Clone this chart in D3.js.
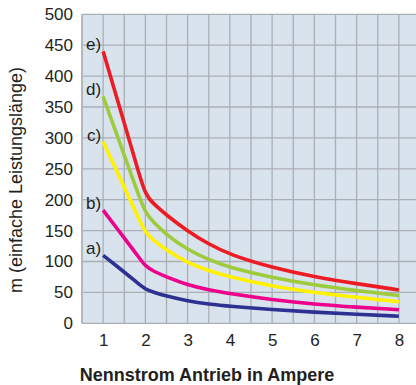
<!DOCTYPE html>
<html><head><meta charset="utf-8">
<script src="https://cdn.jsdelivr.net/npm/d3@7"></script>
<style>body{margin:0;background:#fff}svg{display:block}text{font-family:"Liberation Sans",Arial,sans-serif;fill:#231f20}</style>
</head><body>
<script>
const xValues = [1, 1.5, 1.8, 2, 2.2, 2.5, 3, 3.5, 4, 5, 6, 7, 8];
const seriesA = [110, 83, 66, 55, 50, 44, 36, 31, 27.5, 22, 18, 14.5, 11.5];
const seriesB = [183, 138, 111, 92, 84, 75, 62, 54, 48, 38, 31, 26, 22];
const seriesC = [294, 220, 176, 146, 134, 118, 98, 85, 75, 60, 50, 42, 35];
const seriesD = [367, 272, 215, 178, 163, 143, 119, 103, 90, 74, 62, 53, 45];
const seriesE = [440, 324, 254, 207, 193, 175, 149, 128, 111, 90, 75, 64, 54];
const seriesLabels = ["a)", "b)", "c)", "d)", "e)"];
const seriesColors = ["#2e3192", "#ec008c", "#fff200", "#9dcb3b", "#ed1c24"];
const yTicks = [0, 50, 100, 150, 200, 250, 300, 350, 400, 450, 500];
const xTicks = [1, 2, 3, 4, 5, 6, 7, 8];
const xTitle = "Nennstrom Antrieb in Ampere";
const yTitle = "m (einfache Leistungslänge)";

const W = 416, H = 385;
const svg = d3.select("body").append("svg").attr("width", W).attr("height", H);
const x = d3.scaleLinear().domain([0.5, 8.5]).range([82, 420]);
const y = d3.scaleLinear().domain([0, 500]).range([323.3, 14.3]);

// background
svg.append("rect").attr("x", x(0.5)).attr("y", y(500)).attr("width", x(8.5) - x(0.5)).attr("height", y(0) - y(500)).attr("fill", "#d9e3ed");

// grid
const gx = d3.range(1, 17).map(i => 0.5 + i * 0.5);
svg.append("g").selectAll("line").data(gx).join("line")
  .attr("x1", d => x(d)).attr("x2", d => x(d)).attr("y1", y(0)).attr("y2", y(500))
  .attr("stroke", "#abaeb4").attr("stroke-width", 1.3);
svg.append("g").selectAll("line").data(yTicks).join("line")
  .attr("x1", x(0.5)).attr("x2", x(8.5)).attr("y1", d => y(d)).attr("y2", d => y(d))
  .attr("stroke", "#abaeb4").attr("stroke-width", 1.3);
svg.append("line").attr("x1", x(0.5)).attr("x2", x(0.5)).attr("y1", y(0)).attr("y2", y(500))
  .attr("stroke", "#b4b7bc").attr("stroke-width", 2);

// axes (labels only)
const yAxis = d3.axisLeft(y).tickValues(yTicks).tickSize(0).tickPadding(9);
const ga = svg.append("g").attr("transform", `translate(${x(0.5)},0)`).call(yAxis);
ga.select(".domain").remove();
ga.selectAll("text").style("font-size", "17px").attr("fill", "#231f20");
const xAxis = d3.axisBottom(x).tickValues(xTicks).tickSize(0).tickPadding(11);
const gb = svg.append("g").attr("transform", `translate(0,${y(0)})`).call(xAxis);
gb.select(".domain").remove();
gb.selectAll("text").style("font-size", "17px").attr("fill", "#231f20");

// lines
const allSeries = [seriesA, seriesB, seriesC, seriesD, seriesE];
const line = d3.line().x((d, i) => x(xValues[i])).y(d => y(d)).curve(d3.curveBasis);
allSeries.forEach((s, k) => {
  svg.append("path").datum(s).attr("d", line).attr("fill", "none")
    .attr("stroke", seriesColors[k]).attr("stroke-width", 3.6)
    .attr("stroke-linejoin", "round").attr("stroke-linecap", "butt");
  svg.append("text").attr("x", x(1) - 2).attr("y", y(s[0]) - 1).attr("text-anchor", "end")
    .style("font-size", "17px").text(seriesLabels[k]);
});

// titles
svg.append("text").attr("x", 207).attr("y", 381).attr("text-anchor", "middle")
  .style("font-size", "18px").style("font-weight", "bold").text(xTitle);
svg.append("text").attr("transform", "translate(22,180) rotate(-90)").attr("text-anchor", "middle")
  .style("font-size", "18px").text(yTitle);
</script>
</body></html>
